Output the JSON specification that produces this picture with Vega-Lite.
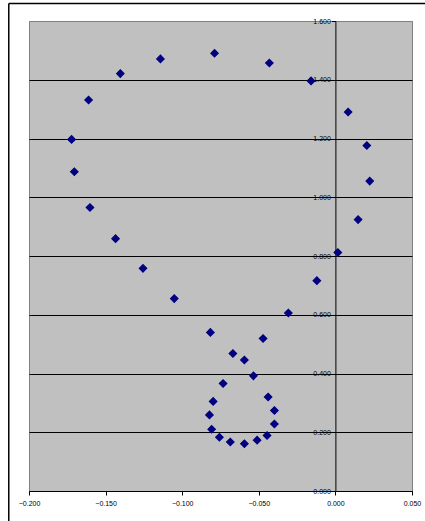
{
  "$schema": "https://vega.github.io/schema/vega-lite/v6.json",
  "autosize": {"type": "none"},
  "padding": {"left": 29, "top": 21, "right": 13, "bottom": 30},
  "width": 383,
  "height": 470,
  "background": "#FFFFFF",
  "config": {
    "view": {"fill": "#C0C0C0", "stroke": "#808080", "strokeWidth": 1},
    "axis": {"labelFont": "Liberation Sans", "labelFontSize": 7, "labelColor": "#000000", "domainColor": "#000000", "tickColor": "#000000", "tickSize": 4, "title": null}
  },
  "datasets": {
    "points": [
      {"x": -0.0594, "y": 0.161}, {"x": -0.0511, "y": 0.173}, {"x": -0.0446, "y": 0.189},
      {"x": -0.0398, "y": 0.228}, {"x": -0.0398, "y": 0.274}, {"x": -0.0439, "y": 0.320},
      {"x": -0.0535, "y": 0.392}, {"x": -0.0594, "y": 0.446}, {"x": -0.0669, "y": 0.468},
      {"x": -0.0733, "y": 0.366}, {"x": -0.0798, "y": 0.305}, {"x": -0.0822, "y": 0.259},
      {"x": -0.0808, "y": 0.210}, {"x": -0.0757, "y": 0.183}, {"x": -0.0686, "y": 0.167},
      {"x": -0.0816, "y": 0.540}, {"x": -0.0472, "y": 0.519}, {"x": -0.0307, "y": 0.606},
      {"x": -0.0121, "y": 0.716}, {"x": 0.0016, "y": 0.812}, {"x": 0.0148, "y": 0.924},
      {"x": 0.0224, "y": 1.055}, {"x": 0.0205, "y": 1.176}, {"x": 0.0083, "y": 1.290},
      {"x": -0.0159, "y": 1.396}, {"x": -0.0431, "y": 1.457}, {"x": -0.0789, "y": 1.490},
      {"x": -0.1142, "y": 1.471}, {"x": -0.1404, "y": 1.421}, {"x": -0.1611, "y": 1.331},
      {"x": -0.1722, "y": 1.197}, {"x": -0.1704, "y": 1.087}, {"x": -0.1602, "y": 0.965},
      {"x": -0.1435, "y": 0.859}, {"x": -0.1256, "y": 0.758}, {"x": -0.1052, "y": 0.655}
    ],
    "frame": [
      {"x": -0.2132, "x2": -0.2132, "y": -0.2, "y2": 1.66},
      {"x": -0.2132, "x2": 0.1, "y": 1.66, "y2": 1.66}
    ]
  },
  "layer": [
    {
      "data": {"name": "frame"},
      "mark": {"type": "rule", "color": "#000000", "strokeWidth": 1.5, "clip": false},
      "encoding": {
        "x": {"field": "x", "type": "quantitative"},
        "x2": {"field": "x2"},
        "y": {"field": "y", "type": "quantitative"},
        "y2": {"field": "y2"}
      }
    },
    {
      "data": {"name": "points"},
      "mark": {"type": "point", "shape": "diamond", "filled": true, "size": 55, "color": "#000080", "stroke": "#000080", "strokeWidth": 1.2, "opacity": 1},
      "encoding": {
        "x": {
          "field": "x", "type": "quantitative",
          "scale": {"domain": [-0.2, 0.05], "nice": false, "zero": false},
          "axis": {"values": [-0.2, -0.15, -0.1, -0.05, 0, 0.05], "format": ".3f", "grid": false, "labelPadding": 4, "labelFlush": false}
        },
        "y": {
          "field": "y", "type": "quantitative",
          "scale": {"domain": [0, 1.6], "nice": false, "zero": false},
          "axis": {"values": [0, 0.2, 0.4, 0.6, 0.8, 1.0, 1.2, 1.4, 1.6], "format": ".3f", "offset": -306.4, "labelPadding": 1, "labelFlush": false, "grid": true,
            "gridColor": {"condition": {"test": "datum.value >= 1.6", "value": "#808080"}, "value": "#000000"}, "gridOpacity": 1, "gridWidth": 1}
        }
      }
    }
  ]
}
